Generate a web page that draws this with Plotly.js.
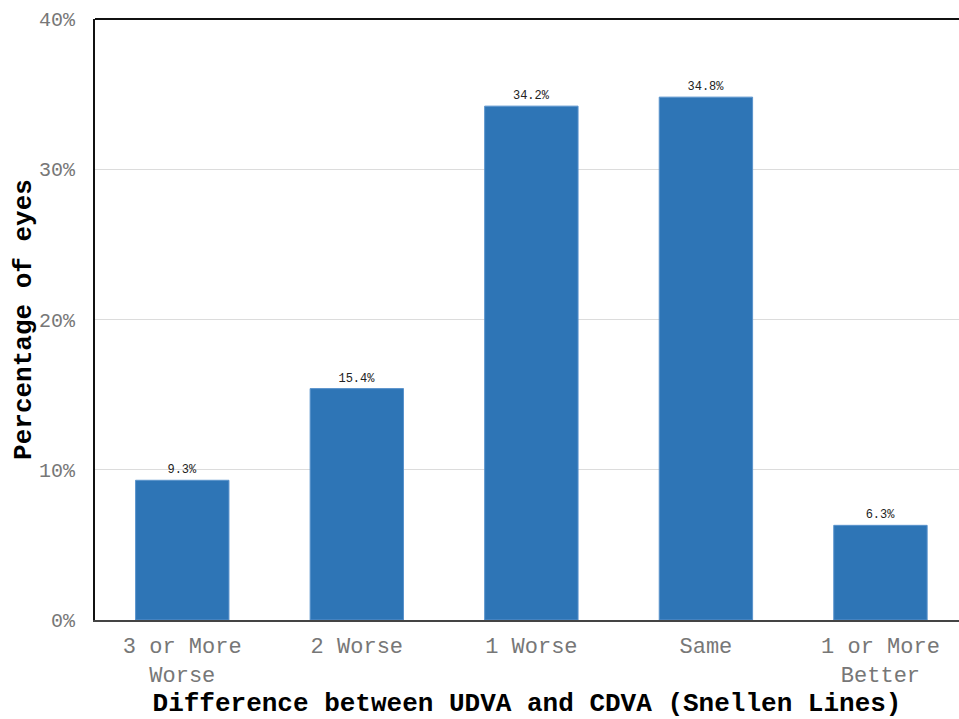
<!DOCTYPE html>
<html>
<head>
<meta charset="utf-8">
<script src="https://cdn.plot.ly/plotly-3.0.1.min.js"></script>
<style>html,body{margin:0;padding:0;background:#fff;}#chart{width:959px;height:719px;}</style>
</head>
<body>
<div id="chart"></div>
<script>
const categories = ["3 or More<br>Worse", "2 Worse", "1 Worse", "Same", "1 or More<br>Better"];
const percentages = [9.3, 15.4, 34.2, 34.8, 6.3];
const yTickValues = [0, 10, 20, 30, 40];

const mono = "Liberation Mono, Courier New, monospace";

const trace = {
  type: "bar",
  x: categories,
  y: percentages,
  width: 0.535,
  marker: {color: "#2e75b6", line: {color: "#5a93cc", width: 1}},
  text: percentages.map(v => v.toFixed(1) + "%"),
  textposition: "outside",
  textfont: {family: mono, size: 12, color: "#222"},
  cliponaxis: false,
  hoverinfo: "none"
};

const layout = {
  width: 959, height: 719,
  margin: {l: 95, r: 0, t: 19, b: 99},
  paper_bgcolor: "#fff", plot_bgcolor: "#fff",
  showlegend: false,
  font: {family: mono},
  xaxis: {
    type: "category",
    range: [-0.5, 4.45],
    showline: true, linecolor: "#444", linewidth: 1.5,
    showgrid: false, ticks: "",
    ticklabelstandoff: 5,
    tickfont: {family: mono, size: 22, color: "#777"},
    title: {text: "Difference between UDVA and CDVA (Snellen Lines)", font: {family: mono, size: 26, color: "#000", weight: "bold"}, standoff: 16}
  },
  yaxis: {
    range: [0, 40],
    tickvals: yTickValues,
    ticktext: yTickValues.map(v => v + "%"),
    showline: true, linecolor: "#111", linewidth: 2,
    showgrid: true, gridcolor: "#dcdcdc", gridwidth: 1,
    zeroline: false,
    ticks: "outside", ticklen: 14, tickcolor: "rgba(0,0,0,0)",
    tickfont: {family: mono, size: 20, color: "#777"},
    title: {text: "Percentage of eyes", font: {family: mono, size: 26, color: "#000", weight: "bold"}, standoff: 0}
  },
  shapes: [{type: "line", xref: "paper", yref: "paper", x0: 0, x1: 1, y0: 1, y1: 1, line: {color: "#111", width: 2}}]
};

Plotly.newPlot("chart", [trace], layout, {staticPlot: true, displayModeBar: false});
</script>
</body>
</html>
